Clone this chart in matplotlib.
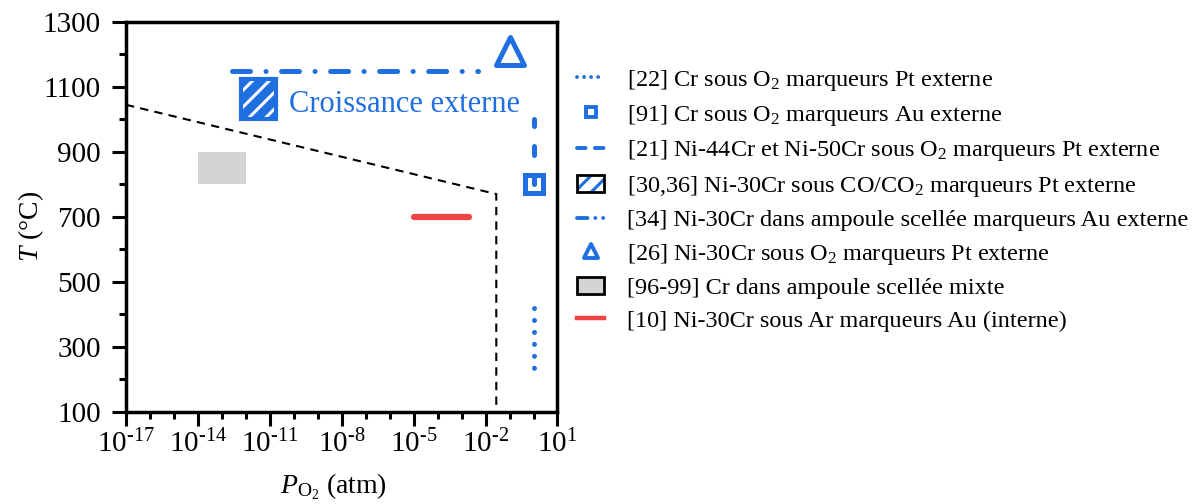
import numpy as np
import matplotlib
matplotlib.use('Agg')
import matplotlib.pyplot as plt
from matplotlib.lines import Line2D
from matplotlib.patches import Patch, Rectangle
from matplotlib.markers import MarkerStyle
import matplotlib.ticker as ticker

plt.rcParams['font.family'] = ['Liberation Serif', 'DejaVu Serif']
plt.rcParams['mathtext.fontset'] = 'custom'
plt.rcParams['mathtext.rm'] = 'Liberation Serif'
plt.rcParams['mathtext.it'] = 'Liberation Serif:italic'
plt.rcParams['hatch.linewidth'] = 2.2

BLUE = '#1f6fe0'
RED = '#f04444'
GREY = '#d4d4d4'

# --- data (P in atm, T in degC) ---
boundary_p = [1e-17, 0.028, 0.028]
boundary_t = [1045, 770, 100]

cr_o2_pt_p = [1, 1]          # [22]
cr_o2_pt_t = [420, 228]
cr_o2_au_p = [1]             # [91]
cr_o2_au_t = [800]
nicr_o2_p = [1, 1]           # [21]
nicr_o2_t = [800, 1000]
co_co2_p = [6.5e-13, 1.8e-11]   # [30,36]
co_co2_t = [1000, 1125]
ampoule_p = [2.6e-13, 5e-3]     # [34]
ampoule_t = [1150, 1150]
nicr_o2_26_p = [0.1]         # [26]
nicr_o2_26_t = [1212]
cr_ampoule_p = [1e-14, 1e-12]   # [96-99]
cr_ampoule_t = [800, 900]
ar_p = [1e-5, 2e-3]          # [10]
ar_t = [700, 700]

xtick_exp = [-17, -14, -11, -8, -5, -2, 1]
xminor_exp = [-16, -15, -13, -12, -10, -9, -7, -6, -4, -3, -1, 0]
yticks = [100, 300, 500, 700, 900, 1100, 1300]
yminor = [200, 400, 600, 800, 1000, 1200]

labels = [
    '[22] Cr sous O$_2$ marqueurs Pt externe',
    '[91] Cr sous O$_2$ marqueurs Au externe',
    '[21] Ni-44Cr et Ni-50Cr sous O$_2$ marqueurs Pt externe',
    '[30,36] Ni-30Cr sous CO/CO$_2$ marqueurs Pt externe',
    '[34] Ni-30Cr dans ampoule scellée marqueurs Au externe',
    '[26] Ni-30Cr sous O$_2$ marqueurs Pt externe',
    '[96-99] Cr dans ampoule scellée mixte',
    '[10] Ni-30Cr sous Ar marqueurs Au (interne)',
]

fig = plt.figure(figsize=(12.02, 5.04), dpi=100)
ax = fig.add_axes([0.1048, 0.1835, 0.359, 0.7728])
ax.set_xscale('log')

# boundary
ax.plot(boundary_p, boundary_t, color='black', lw=1.5, dashes=(4, 3), zorder=2)

# grey box [96-99]
ax.add_patch(Rectangle((cr_ampoule_p[0], cr_ampoule_t[0]),
                       cr_ampoule_p[1] - cr_ampoule_p[0],
                       cr_ampoule_t[1] - cr_ampoule_t[0],
                       facecolor=GREY, edgecolor='none', zorder=1))

# hatched box [30,36]
ax.add_patch(Rectangle((co_co2_p[0], co_co2_t[0]),
                       co_co2_p[1] - co_co2_p[0], co_co2_t[1] - co_co2_t[0],
                       facecolor=BLUE, edgecolor='white', hatch='//', lw=0, zorder=2))
ax.add_patch(Rectangle((co_co2_p[0], co_co2_t[0]),
                       co_co2_p[1] - co_co2_p[0], co_co2_t[1] - co_co2_t[0],
                       fill=False, edgecolor=BLUE, lw=3, zorder=3))

# red line [10]
ax.plot(ar_p, ar_t, color=RED, lw=4.5, solid_capstyle='round', zorder=3)

# dash-dot [34]
ax.plot(ampoule_p, ampoule_t, color=BLUE, lw=3.6, dashes=(3.6, 3.1, 0.01, 3.1),
        dash_capstyle='round', zorder=3)

# dotted [22]
ax.plot(cr_o2_pt_p, cr_o2_pt_t, color=BLUE, lw=3.6, dashes=(0.01, 2.38),
        dash_capstyle='round', zorder=3)

# square [91] under dashed [21]
ax.plot(cr_o2_au_p, cr_o2_au_t, ls='none', marker='s', ms=13, mfc='white',
        mec=BLUE, mew=3.6, zorder=3)
ax.plot(nicr_o2_p, nicr_o2_t, color=BLUE, lw=3.6, dashes=(1.8, 4),
        dash_capstyle='round', zorder=4)

# triangle [26]
ax.plot(nicr_o2_26_p, nicr_o2_26_t, ls='none',
        marker=MarkerStyle('^', joinstyle='round'), ms=20, mfc='none',
        mec=BLUE, mew=3.6, zorder=3)

ax.text(6.5e-11, 1024, 'Croissance externe', color=BLUE, fontsize=22,
        ha='left', va='baseline')

# axes
ax.set_xlim(1e-17, 10)
ax.set_ylim(100, 1300)
ax.xaxis.set_major_locator(ticker.FixedLocator([10.0**e for e in xtick_exp]))
ax.xaxis.set_minor_locator(ticker.FixedLocator([10.0**e for e in xminor_exp]))
ax.xaxis.set_major_formatter(ticker.FuncFormatter(
    lambda v, pos: r'$10^{\text{%d}}$' % int(round(np.log10(v)))))
ax.xaxis.set_minor_formatter(ticker.NullFormatter())
ax.set_yticks(yticks)
ax.set_yticks(yminor, minor=True)

ax.tick_params(which='major', length=10, width=2.2, labelsize=21)
ax.tick_params(axis='x', which='major', pad=3)
ax.tick_params(axis='y', which='major', pad=8)
ax.tick_params(which='minor', length=5, width=2.2)
for s in ax.spines.values():
    s.set_linewidth(2.5)

ax.set_xlabel(r'$P_{\mathrm{O}_2}$ (atm)', fontsize=20)
ax.set_ylabel(r'$T$ (°C)', fontsize=20)
ax.yaxis.set_label_coords(-0.185, 0.476)
ax.xaxis.set_label_coords(0.48, -0.153)

# legend proxies
handles = [
    Line2D([], [], color=BLUE, lw=2.8, dashes=(0.01, 1.8), dash_capstyle='round'),
    Line2D([], [], ls='none', marker='s', ms=7, mfc='white', mec=BLUE, mew=2.8),
    Line2D([], [], color=BLUE, lw=2.8, dashes=(2.2, 2.4), dash_capstyle='round'),
    (Patch(facecolor='white', edgecolor=BLUE, hatch='//', lw=0),
     Patch(fill=False, edgecolor='black', lw=2)),
    Line2D([], [], color=BLUE, lw=2.8, dashes=(2.7, 2.0, 0.01, 2.0, 0.01, 2.0),
           dash_capstyle='round'),
    Line2D([], [], ls='none', marker=MarkerStyle('^', joinstyle='round'), ms=10,
           mfc='none', mec=BLUE, mew=2.8),
    Patch(facecolor=GREY, edgecolor='black', lw=2),
    Line2D([], [], color=RED, lw=3.2),
]
fig.legend(handles, labels, loc='upper left', bbox_to_anchor=(0.48, 0.866),
           bbox_transform=fig.transFigure, frameon=False, fontsize=17.5,
           handlelength=1.13, handletextpad=0.93, labelspacing=0.43,
           borderpad=0, borderaxespad=0)

fig.savefig('out.png', dpi=100)
